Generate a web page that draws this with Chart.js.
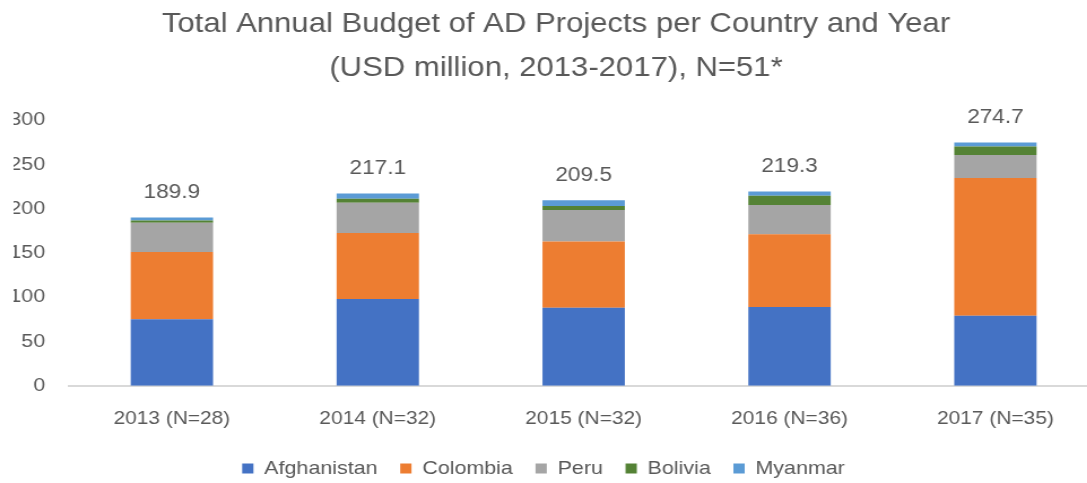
<!DOCTYPE html>
<html>
<head>
<meta charset="utf-8">
<script src="https://cdn.jsdelivr.net/npm/chart.js@4.4.1/dist/chart.umd.min.js"></script>
<style>
  html, body { margin: 0; padding: 0; background: #fff; overflow: hidden; }
  /* o grafico original esta esticado na horizontal */
  #wrap { width: 973px; height: 483px; transform: scaleX(1.13); transform-origin: 0 0; }
</style>
</head>
<body>
<div id="wrap"><canvas id="budget-graphic" width="973" height="483"></canvas></div>
<script>
const years = ['2013 (N=28)', '2014 (N=32)', '2015 (N=32)', '2016 (N=36)', '2017 (N=35)'];

const afghanistan = [75, 98, 88, 89, 79];
const colombia = [76, 74.5, 75, 82, 155.5];
const peru = [33, 34, 35.5, 33, 26];
const bolivia = [2.5, 4.5, 4.5, 10.5, 9.7];
const myanmar = [3.4, 6.1, 6.5, 4.8, 4.5];

const totals = ['189.9', '217.1', '209.5', '219.3', '274.7'];

const fonte = '"Liberation Sans", Arial, sans-serif';
const cinza = '#595959';

// rotulo com o total em cima de cada barra
const rotuloTotal = {
  id: 'rotuloTotal',
  afterDatasetsDraw(chart) {
    const ctx = chart.ctx;
    const meta = chart.getDatasetMeta(chart.data.datasets.length - 1);
    ctx.save();
    ctx.font = '20px ' + fonte;
    ctx.fillStyle = cinza;
    ctx.textAlign = 'center';
    ctx.textBaseline = 'middle';
    meta.data.forEach((bar, i) => {
      ctx.fillText(totals[i], bar.x, bar.y - 25);
    });
    ctx.restore();
  }
};

// legenda um pouco mais para a esquerda, como no original
const moveLegenda = {
  id: 'moveLegenda',
  afterLayout(chart) {
    chart.legend.left -= 11;
    chart.legend.right -= 11;
  }
};

const data = {
  labels: years,
  datasets: [
    { label: 'Afghanistan', data: afghanistan, backgroundColor: '#4472C4' },
    { label: 'Colombia', data: colombia, backgroundColor: '#ED7D31' },
    { label: 'Peru', data: peru, backgroundColor: '#A5A5A5' },
    { label: 'Bolivia', data: bolivia, backgroundColor: '#548235' },
    { label: 'Myanmar', data: myanmar, backgroundColor: '#5B9BD5' },
  ]
};

const config = {
  type: 'bar',
  data: data,
  plugins: [rotuloTotal, moveLegenda],
  options: {
    responsive: false,
    animation: false,
    layout: { padding: { left: 12, right: 1, top: 0, bottom: -5 } },
    datasets: { bar: { barPercentage: 0.8, categoryPercentage: 0.5 } },
    scales: {
      x: {
        stacked: true,
        grid: { display: false, drawTicks: false },
        border: { color: '#d9d9d9', width: 2 },
        ticks: { color: cinza, font: { family: fonte, size: 18.5 }, padding: 22 },
        afterFit(scale) { scale.height -= 13; }
      },
      y: {
        stacked: true,
        min: 0,
        max: 300,
        grid: { display: false, drawTicks: false },
        border: { display: false },
        ticks: { stepSize: 50, color: cinza, font: { family: fonte, size: 19 }, padding: 21 },
        afterFit(scale) { scale.width = 49; }
      }
    },
    plugins: {
      legend: {
        position: 'bottom',
        labels: {
          color: cinza,
          font: { family: fonte, size: 19 },
          boxWidth: 10,
          boxHeight: 10,
          padding: 20
        }
      },
      title: {
        display: true,
        text: ['Total Annual Budget of AD Projects per Country and Year', '(USD million, 2013-2017), N=51*'],
        color: cinza,
        font: { family: fonte, size: 27.5, weight: 'normal', lineHeight: 1.6 },
        padding: { top: 2, bottom: 30 }
      },
      tooltip: { enabled: false }
    }
  }
};

window.addEventListener('DOMContentLoaded', () => {
  const ctx = document.getElementById('budget-graphic').getContext('2d');
  new Chart(ctx, config);
});
</script>
</body>
</html>
